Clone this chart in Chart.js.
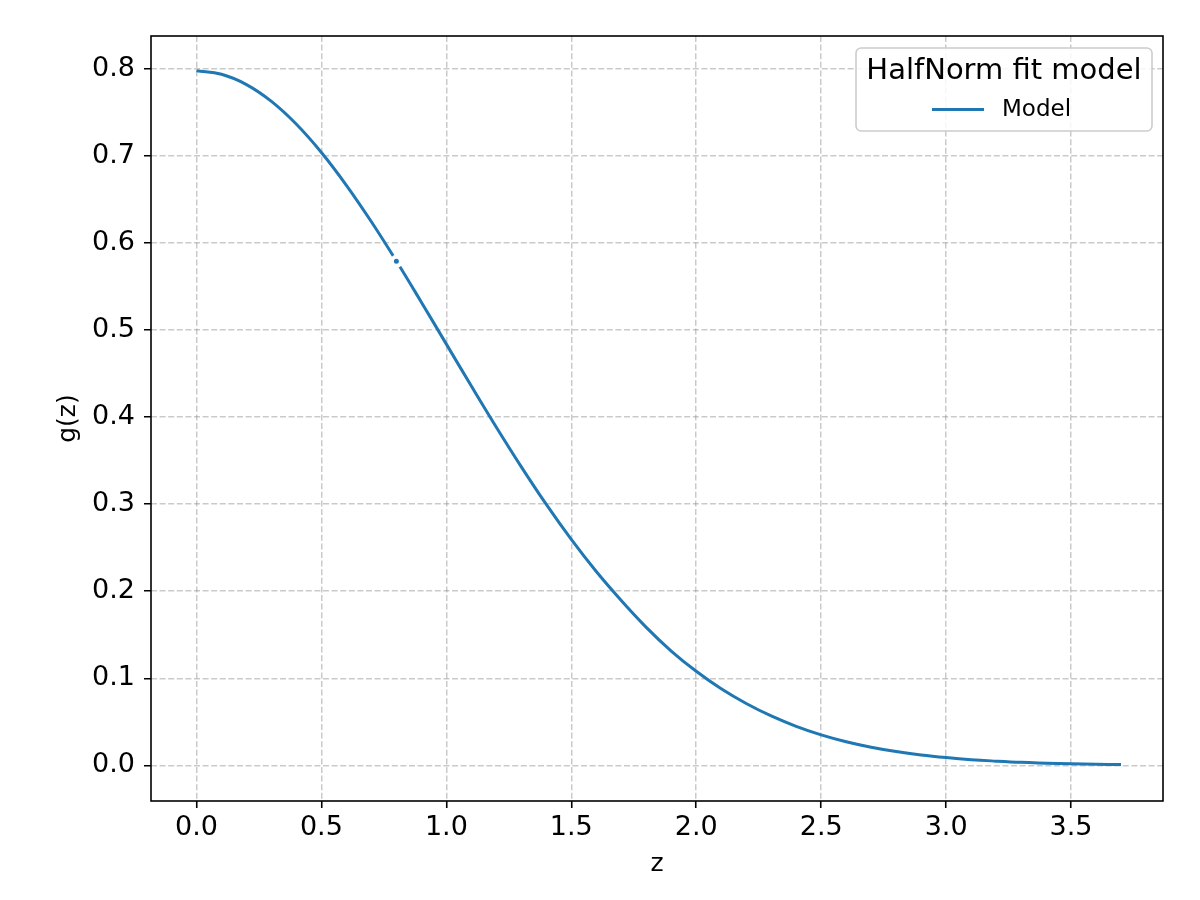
<!DOCTYPE html>
<html>
<head>
<meta charset="utf-8">
<script src="https://cdn.jsdelivr.net/npm/chart.js@4.4.1/dist/chart.umd.min.js"></script>
<style>
  html, body { margin: 0; background: #fff; }
  #wrap { width: 1200px; height: 900px; }
</style>
</head>
<body>
<div id="wrap"><canvas id="myChart" width="1200" height="900"></canvas></div>
<script>
// Datos
const zValues = [0.0, 0.1, 0.2, 0.3, 0.4, 0.5, 0.6, 0.7, 0.8, 0.9,
                 1.0, 1.1, 1.2, 1.3, 1.4, 1.5, 1.6, 1.7, 1.8, 1.9,
                 2.0, 2.1, 2.2, 2.3, 2.4, 2.5, 2.6, 2.7, 2.8, 2.9,
                 3.0, 3.1, 3.2, 3.3, 3.4, 3.5, 3.6, 3.7];
const gValues = [0.7979, 0.7939, 0.7821, 0.7628, 0.7365, 0.7041, 0.6664, 0.6245, 0.5794, 0.5321,
                 0.4839, 0.4357, 0.3884, 0.3429, 0.2997, 0.2595, 0.2226, 0.1893, 0.1585, 0.1313,
                 0.1080, 0.0879, 0.0710, 0.0567, 0.0448, 0.0350, 0.0271, 0.0208, 0.0158, 0.0119,
                 0.0089, 0.0065, 0.0048, 0.0034, 0.0025, 0.0017, 0.0012, 0.0009];
const markerZ = [0.8];
const markerG = [0.579];
const xTicks = [0.0, 0.5, 1.0, 1.5, 2.0, 2.5, 3.0, 3.5];
const yTicks = [0.0, 0.1, 0.2, 0.3, 0.4, 0.5, 0.6, 0.7, 0.8];

const FONT = 'DejaVu Sans';
const BLUE = '#1f77b4';

// Opciones comunes de la rejilla
const gridOpts = {
    color: 'rgba(128,128,128,0.42)',
    lineWidth: 1.5,
    drawTicks: true,
    tickLength: 7,
    tickColor: '#000',
    tickWidth: 1.6,
    tickBorderDash: [1, 0]
};
const borderOpts = { display: false, dash: [6, 2.6] };

// Marco del área del gráfico y leyenda propia
const framePlugin = {
    id: 'frameAndLegend',
    afterDatasetsDraw(chart) {
        const {ctx, chartArea: a} = chart;
        ctx.save();
        ctx.strokeStyle = '#000';
        ctx.lineWidth = 1.6;
        ctx.strokeRect(a.left, a.top, a.right - a.left, a.bottom - a.top);
        ctx.restore();
    },
    afterDraw(chart) {
        const ctx = chart.ctx;
        const x = 856, y = 48, w = 296, h = 83, r = 5;
        ctx.save();
        ctx.beginPath();
        ctx.roundRect(x, y, w, h, r);
        ctx.fillStyle = 'rgba(255,255,255,0.85)';
        ctx.fill();
        ctx.strokeStyle = '#cccccc';
        ctx.lineWidth = 1.6;
        ctx.stroke();

        ctx.fillStyle = '#000';
        ctx.textBaseline = 'alphabetic';
        ctx.textAlign = 'center';
        ctx.font = '29px "' + FONT + '"';
        ctx.fillText('HalfNorm fit model', x + w / 2, 79);

        ctx.strokeStyle = BLUE;
        ctx.lineWidth = 3;
        ctx.beginPath();
        ctx.moveTo(932, 109.5);
        ctx.lineTo(984, 109.5);
        ctx.stroke();

        ctx.textAlign = 'left';
        ctx.font = '23px "' + FONT + '"';
        ctx.fillText('Model', 1002, 116);
        ctx.restore();
    }
};

const ctx = document.getElementById('myChart').getContext('2d');

const data = {
    datasets: [
        {
            label: 'marker',
            data: markerZ.map((z, i) => ({x: z, y: markerG[i]})),
            showLine: false,
            pointRadius: 4.5,
            pointBackgroundColor: BLUE,
            pointBorderColor: '#fff',
            pointBorderWidth: 4,
            order: 0
        },
        {
            label: 'Model',
            data: zValues.map((z, i) => ({x: z, y: gValues[i]})),
            borderColor: BLUE,
            borderWidth: 3,
            pointRadius: 0,
            fill: false,
            tension: 0.4,
            order: 1
        }
    ]
};

const config = {
    type: 'line',
    data: data,
    options: {
        responsive: false,
        devicePixelRatio: 1,
        animation: false,
        layout: { padding: { top: 36, right: 37, left: 0, bottom: 0 } },
        plugins: {
            legend: { display: false },
            tooltip: { enabled: false }
        },
        scales: {
            x: {
                type: 'linear',
                min: -0.182,
                max: 3.868,
                afterBuildTicks: s => { s.ticks = xTicks.map(v => ({value: v})); },
                afterFit: s => { s.height = 99; },
                ticks: {
                    callback: v => v.toFixed(1),
                    color: '#000',
                    font: { family: FONT, size: 27 },
                    padding: 4,
                    autoSkip: false,
                    maxRotation: 0
                },
                grid: gridOpts,
                border: borderOpts,
                title: {
                    display: true,
                    text: 'z',
                    color: '#000',
                    font: { family: FONT, size: 25 },
                    padding: { top: 0, bottom: 21 }
                }
            },
            y: {
                type: 'linear',
                min: -0.041,
                max: 0.8379,
                afterBuildTicks: s => { s.ticks = yTicks.map(v => ({value: v})); },
                afterFit: s => { s.width = 151; },
                ticks: {
                    callback: v => v.toFixed(1),
                    color: '#000',
                    font: { family: FONT, size: 27 },
                    padding: 9,
                    autoSkip: false
                },
                grid: gridOpts,
                border: borderOpts,
                title: {
                    display: true,
                    text: 'g(z)',
                    color: '#000',
                    font: { family: FONT, size: 25 },
                    padding: { top: 53, bottom: 0 }
                }
            }
        }
    },
    plugins: [framePlugin]
};

const myChart = new Chart(ctx, config);
</script>
</body>
</html>
